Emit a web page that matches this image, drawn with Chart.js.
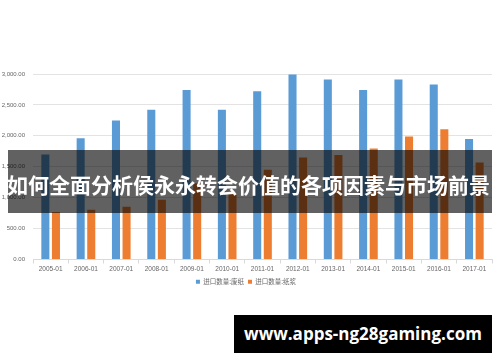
<!DOCTYPE html>
<html>
<head>
<meta charset="utf-8">
<script src="https://cdn.jsdelivr.net/npm/chart.js@4/dist/chart.umd.min.js"></script>
<style>
    body { margin: 0; background: #fff; }
    #wrap { position: relative; width: 500px; height: 362px; overflow: hidden; }
    #band {
        position: absolute; left: 8px; top: 150px; width: 484px; height: 63px;
        background: rgba(0, 0, 0, 0.62);
    }
    #title {
        position: absolute; left: 7px; top: 170px; width: 490px; text-align: left;
        font: bold 21px "Noto Sans CJK SC", sans-serif; line-height: 28px;
        color: #fff; white-space: nowrap;
    }
    #mark {
        position: absolute; left: 234px; top: 315px; width: 258px; height: 38px;
        background: #000; color: #fff; text-align: center;
        font: bold 17px "Open Sans", sans-serif; line-height: 38px;
    }
</style>
</head>
<body>
<div id="wrap">
    <canvas id="chart" width="500" height="362"></canvas>
    <div id="band"></div>
    <div id="title">如何全面分析侯永永转会价值的各项因素与市场前景</div>
    <div id="mark">www.apps-ng28gaming.com</div>
</div>
<script>
const months = ['2005-01', '2006-01', '2007-01', '2008-01', '2009-01', '2010-01', '2011-01',
    '2012-01', '2013-01', '2014-01', '2015-01', '2016-01', '2017-01'];
const wastePaper = [1700, 1960, 2250, 2420, 2740, 2420, 2720, 2990, 2910, 2740, 2910, 2830, 1950];
const pulp = [770, 805, 855, 965, 1235, 1060, 1450, 1650, 1690, 1795, 1990, 2105, 1570];
const seriesNames = ['进口数量:废纸', '进口数量:纸浆'];

const ctx = document.getElementById('chart');

new Chart(ctx, {
    type: 'bar',
    data: {
        labels: months,
        datasets: [{
            label: seriesNames[0],
            data: wastePaper,
            backgroundColor: '#5B9BD5',
            categoryPercentage: 0.6,
            barPercentage: 0.76
        }, {
            label: seriesNames[1],
            data: pulp,
            backgroundColor: '#ED7D31',
            categoryPercentage: 0.6,
            barPercentage: 0.76
        }]
    },
    options: {
        responsive: false,
        animation: false,
        layout: {
            padding: { top: 74, right: 8, bottom: 67, left: 0 }
        },
        plugins: {
            tooltip: { enabled: false },
            legend: {
                position: 'bottom',
                labels: {
                    boxWidth: 4,
                    boxHeight: 4,
                    padding: 4,
                    color: '#666',
                    font: { family: 'Noto Sans CJK SC', size: 6.5 }
                }
            }
        },
        scales: {
            x: {
                afterFit: (scale) => { scale.height = 15; },
                grid: { drawOnChartArea: false, tickLength: 4, color: '#d9d9d9' },
                border: { color: '#d9d9d9' },
                ticks: {
                    color: '#666',
                    padding: 2,
                    maxRotation: 0,
                    font: { family: 'Liberation Sans', size: 6.5 }
                }
            },
            y: {
                min: 0,
                max: 3000,
                afterFit: (scale) => { scale.width = 33; },
                border: { display: false },
                grid: { color: '#e3e3e3', drawTicks: false },
                ticks: {
                    stepSize: 500,
                    padding: 8,
                    color: '#666',
                    font: { family: 'Liberation Sans', size: 6 },
                    callback: (v) => v.toLocaleString('en-US', { minimumFractionDigits: 2, maximumFractionDigits: 2 })
                }
            }
        }
    }
});
</script>
</body>
</html>
